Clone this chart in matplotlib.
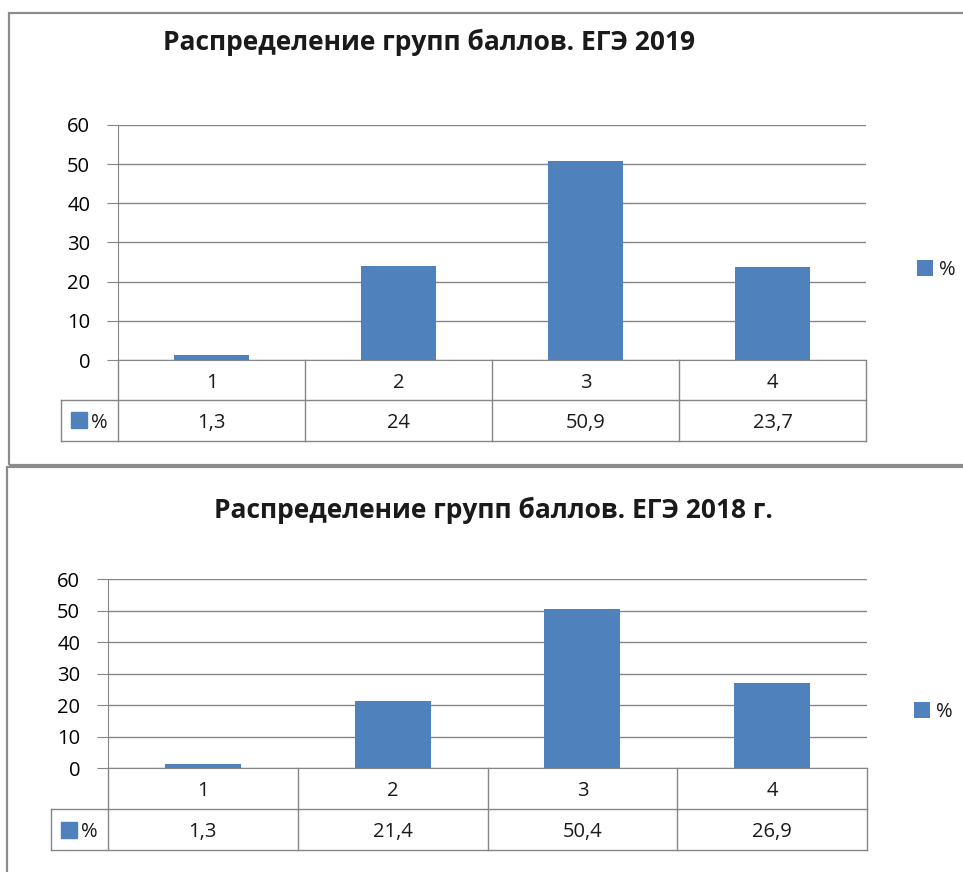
import matplotlib
matplotlib.use("Agg")
import matplotlib.pyplot as plt
from matplotlib.patches import Rectangle
from matplotlib.lines import Line2D

categories = ["1", "2", "3", "4"]
values_2019 = [1.3, 24, 50.9, 23.7]
values_2018 = [1.3, 21.4, 50.4, 26.9]
yticks = [0, 10, 20, 30, 40, 50, 60]
series_name = "%"
title_2019 = "Распределение групп баллов. ЕГЭ 2019"
title_2018 = "Распределение групп баллов. ЕГЭ 2018 г."

BAR = "#4f81bd"
GRID = "#868686"
FRAME = "#8c8c8c"
W, H = 963, 872
FS = 14.5

plt.rcParams['font.family'] = ['Open Sans', 'DejaVu Sans']
plt.rcParams['text.color'] = '#1a1a1a'

fig = plt.figure(figsize=(W / 100, H / 100), dpi=100)


def px_axes(left, top, right, bottom):
    return fig.add_axes([left / W, 1 - bottom / H, (right - left) / W, (bottom - top) / H])


def frame(left, top, right, bottom):
    fig.patches.append(Rectangle((left / W, 1 - bottom / H), (right - left) / W, (bottom - top) / H,
                                 transform=fig.transFigure, fill=False, ec=FRAME, lw=1.6))


def line(ax, xs, ys):
    ax.add_line(Line2D(xs, ys, transform=ax.transAxes, color=GRID, lw=1, clip_on=False))


def draw_chart(ax, values, ax_w, ax_h, row1, row2, leg_w, leg_anchor):
    x = range(len(categories))
    ax.bar(x, values, width=0.4, color=BAR, label=series_name, zorder=3)
    ax.set_xlim(-0.5, len(categories) - 0.5)
    ax.set_ylim(0, 60)
    ax.set_yticks(yticks)
    ax.set_xticks([])
    ax.yaxis.grid(True, color=GRID, lw=1)
    ax.set_axisbelow(True)
    for s in ['top', 'right']:
        ax.spines[s].set_visible(False)
    for s in ['left', 'bottom']:
        ax.spines[s].set_color(GRID)
    ax.tick_params(axis='y', length=8, color=GRID, labelsize=FS, pad=12)

    # data table below the axis
    r1 = row1 / ax_h
    r2 = row2 / ax_h
    lw = leg_w / ax_w
    n = len(categories)
    for i in range(n + 1):
        line(ax, [i / n, i / n], [0, -(r1 + r2)])
    line(ax, [-lw, 1], [-r1, -r1])
    line(ax, [-lw, 1], [-(r1 + r2), -(r1 + r2)])
    line(ax, [-lw, -lw], [-r1, -(r1 + r2)])
    for i, (c, v) in enumerate(zip(categories, values)):
        ax.text((i + 0.5) / n, -r1 / 2, c, transform=ax.transAxes, ha='center', va='center_baseline',
                fontsize=FS)
        ax.text((i + 0.5) / n, -r1 - r2 / 2, f"{v:g}".replace('.', ','), transform=ax.transAxes,
                ha='center', va='center_baseline', fontsize=FS)
    sq_w = 16 / ax_w
    sq_h = 16 / ax_h
    ax.add_patch(Rectangle((-lw + 10 / ax_w, -r1 - r2 / 2 - sq_h / 2), sq_w, sq_h, transform=ax.transAxes,
                           color=BAR, clip_on=False))
    ax.text(-lw + 30 / ax_w, -r1 - r2 / 2, series_name, transform=ax.transAxes, ha='left',
            va='center_baseline', fontsize=FS)

    ax.legend(loc='center left', bbox_to_anchor=leg_anchor, frameon=False, borderpad=0, borderaxespad=0,
              handlelength=0.8, handleheight=0.8, handletextpad=0.3, fontsize=FS)


# top chart (2019)
frame(9, 13, 990, 465)
ax1 = px_axes(118, 125, 866, 360)
draw_chart(ax1, values_2019, 748, 235, 40, 41, 57, (1 + (917 - 866) / 748, (360 - 270) / 235))
fig.text(429 / W, 1 - 42 / H, title_2019, ha='center', va='center', fontsize=19, fontweight='bold')

# bottom chart (2018)
frame(7, 467, 990, 900)
ax2 = px_axes(108, 579, 867, 768)
draw_chart(ax2, values_2018, 759, 189, 41, 41, 57, (1 + (914 - 867) / 759, (768 - 712) / 189))
fig.text(493 / W, 1 - 510 / H, title_2018, ha='center', va='center', fontsize=19, fontweight='bold')

fig.savefig("out.png", dpi=100)
